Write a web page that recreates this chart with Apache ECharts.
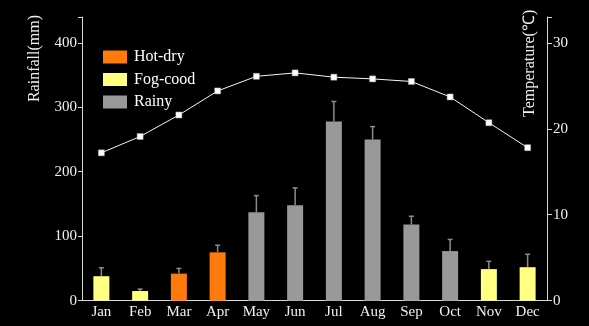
<!DOCTYPE html>
<html><head><meta charset="utf-8">
<script src="https://cdn.jsdelivr.net/npm/echarts@6/dist/echarts.min.js"></script>
<style>html,body{margin:0;padding:0;background:#000;}#c{width:589px;height:326px;}</style>
</head><body><div id="c"></div>
<script>
const months = ['Jan','Feb','Mar','Apr','May','Jun','Jul','Aug','Sep','Oct','Nov','Dec'];
const rainfall = [38, 15, 42, 75, 137, 148, 278, 250, 118, 77, 49, 52];
const rainfallErrTop = [51, 18, 50, 86, 163, 175, 309, 270, 131, 95, 61, 72];
const season = ['Fog-cood','Fog-cood','Hot-dry','Hot-dry','Rainy','Rainy','Rainy','Rainy','Rainy','Rainy','Fog-cood','Fog-cood'];
const temperature = [17.2, 19.1, 21.6, 24.4, 26.1, 26.5, 26.0, 25.8, 25.5, 23.7, 20.7, 17.8];
const seasonNames = ['Hot-dry','Fog-cood','Rainy'];
const seasonColors = {'Hot-dry':'#ff7a0a','Fog-cood':'#ffff80','Rainy':'#999999'};
const leftTicks = [0,100,200,300,400];
const rightTicks = [0,10,20,30];

const font = '"Liberation Serif","Times New Roman",serif';
const txt = '#f0f0f0';
const axisCol = '#d8d8d8';

const chart = echarts.init(document.getElementById('c'));
const barSeries = seasonNames.map(name => ({
  name: name, type: 'bar', barWidth: 16, barGap: '-100%',
  itemStyle: {color: seasonColors[name]},
  data: rainfall.map((v,i) => season[i] === name ? v : '-'),
  z: 2
}));
chart.setOption({
  backgroundColor: '#000',
  animation: false,
  grid: {left: 82, right: 42, top: 17, bottom: 25.3},
  legend: {
    data: seasonNames, orient: 'vertical', left: 103, top: 49, padding: 0,
    itemWidth: 24, itemHeight: 13, itemGap: 6.5, icon: 'rect',
    textStyle: {color: '#ffffff', fontSize: 16, fontFamily: font, padding: [0,0,0,2]}
  },
  xAxis: {
    type: 'category', data: months, boundaryGap: true,
    axisLine: {lineStyle: {color: axisCol, width: 1}},
    axisTick: {show: false},
    axisLabel: {color: txt, fontSize: 15, fontFamily: font, margin: 4}
  },
  yAxis: [{
    type: 'value', min: 0, max: 440, interval: 100,
    axisLine: {show: true, lineStyle: {color: axisCol}},
    axisTick: {show: true, length: 4, lineStyle: {color: axisCol}},
    axisLabel: {color: txt, fontSize: 15, fontFamily: font, margin: 5,
      formatter: v => leftTicks.includes(v) ? String(v) : ''},
    splitLine: {show: false}
  },{
    type: 'value', min: 0, max: 33, interval: 10, position: 'right',
    axisLine: {show: true, lineStyle: {color: axisCol}},
    axisTick: {show: true, length: 5, lineStyle: {color: axisCol}},
    axisLabel: {color: txt, fontSize: 15, fontFamily: font, margin: 6,
      formatter: v => rightTicks.includes(v) ? String(v) : ''},
    splitLine: {show: false}
  }],
  graphic: [
    {type: 'text', left: 27, top: 15, rotation: Math.PI/2,
     style: {text: 'Rainfall(mm)', fill: txt, font: '16px ' + font}},
    {type: 'text', x: 522, y: 117, rotation: Math.PI/2, originX: 0, originY: 0,
     style: {text: 'Temperature(℃)', fill: txt, font: '16px ' + font}}
  ],
  series: barSeries.concat([
    {
      name: 'err', type: 'custom', z: 3,
      data: rainfall.map((v,i) => [i, v, rainfallErrTop[i]]),
      renderItem: function(params, api) {
        const base = api.coord([api.value(0), api.value(1)]);
        const top = api.coord([api.value(0), api.value(2)]);
        const c = 2.5;
        return {type: 'group', children: [
          {type: 'line', shape: {x1: base[0], y1: base[1], x2: top[0], y2: top[1]},
           style: {stroke: '#8c8c8c', lineWidth: 1.5}},
          {type: 'line', shape: {x1: top[0]-c, y1: top[1], x2: top[0]+c, y2: top[1]},
           style: {stroke: '#8c8c8c', lineWidth: 1.5}}
        ]};
      }
    },
    {
      name: 'Temperature', type: 'line', yAxisIndex: 1, data: temperature,
      symbol: 'rect', symbolSize: 6, z: 5,
      lineStyle: {color: '#f5f5f5', width: 1},
      itemStyle: {color: '#ffffff', borderColor: '#aaaaaa', borderWidth: 0.5}
    }
  ])
});
</script></body></html>
